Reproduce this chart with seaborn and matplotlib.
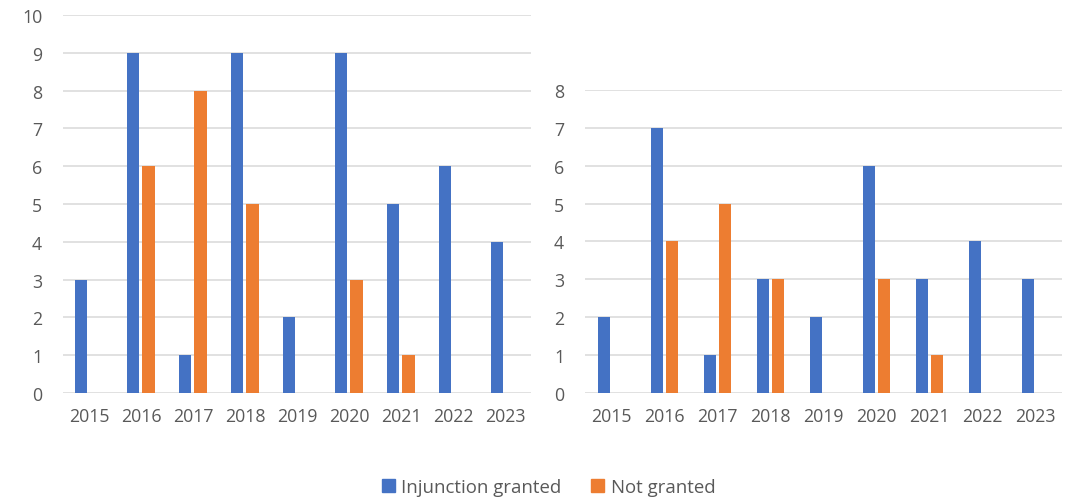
import numpy as np
import pandas as pd
import matplotlib
matplotlib.use("Agg")
import matplotlib.pyplot as plt
import seaborn as sns

# -------------------------------------------------
# Data
# -------------------------------------------------
years = ["2015", "2016", "2017", "2018", "2019", "2020", "2021", "2022", "2023"]
series_names = ["Injunction granted", "Not granted"]

left_granted = [3, 9, 1, 9, 2, 9, 5, 6, 4]
left_not_granted = [0, 6, 8, 5, 0, 3, 1, 0, 0]

right_granted = [2, 7, 1, 3, 2, 6, 3, 4, 3]
right_not_granted = [0, 4, 5, 3, 0, 3, 1, 0, 0]

colors = ["#4472C4", "#ED7D31"]
text_col = "#595959"
grid_col = "#D9D9D9"


def to_long(granted, not_granted):
    return pd.DataFrame({
        "year": years * 2,
        "count": list(granted) + list(not_granted),
        "status": [series_names[0]] * len(years) + [series_names[1]] * len(years),
    })


sns.set_theme(style="white")
plt.rcParams["font.family"] = ["Open Sans", "DejaVu Sans"]

fig = plt.figure(figsize=(10.84, 5.02), dpi=100)
ax_l = fig.add_axes([0.0581, 0.2151, 0.4317, 0.753])
ax_r = fig.add_axes([0.5397, 0.2151, 0.4400, 0.604])


def draw_panel(ax, df, ymax):
    sns.barplot(
        data=df, x="year", y="count", hue="status", hue_order=series_names,
        palette=colors, width=0.58, gap=0.2, ax=ax, legend=False,
        saturation=1.0, errorbar=None, linewidth=0,
    )
    ax.set_ylim(0, ymax)
    ax.set_yticks(np.arange(0, ymax + 1, 1))
    ax.set_xlim(-0.5, len(years) - 0.5)
    ax.yaxis.grid(True, color=grid_col, linewidth=1.1)
    ax.set_axisbelow(True)
    for sp in ax.spines.values():
        sp.set_visible(False)
    ax.set_xlabel("")
    ax.set_ylabel("")
    ax.tick_params(axis="both", length=0, labelsize=12.8, labelcolor=text_col)
    ax.tick_params(axis="y", pad=15)
    ax.tick_params(axis="x", pad=10)


draw_panel(ax_l, to_long(left_granted, left_not_granted), 10)
draw_panel(ax_r, to_long(right_granted, right_not_granted), 8)

handles = [plt.Rectangle((0, 0), 1, 1, color=c) for c in colors]
fig.legend(
    handles, series_names, loc="center", bbox_to_anchor=(0.506, 0.028),
    ncol=2, frameon=False, fontsize=13.4, handlelength=0.7, handleheight=0.7,
    handletextpad=0.35, columnspacing=1.6, labelcolor=text_col,
)

fig.savefig("out.png", dpi=100)
plt.close(fig)
